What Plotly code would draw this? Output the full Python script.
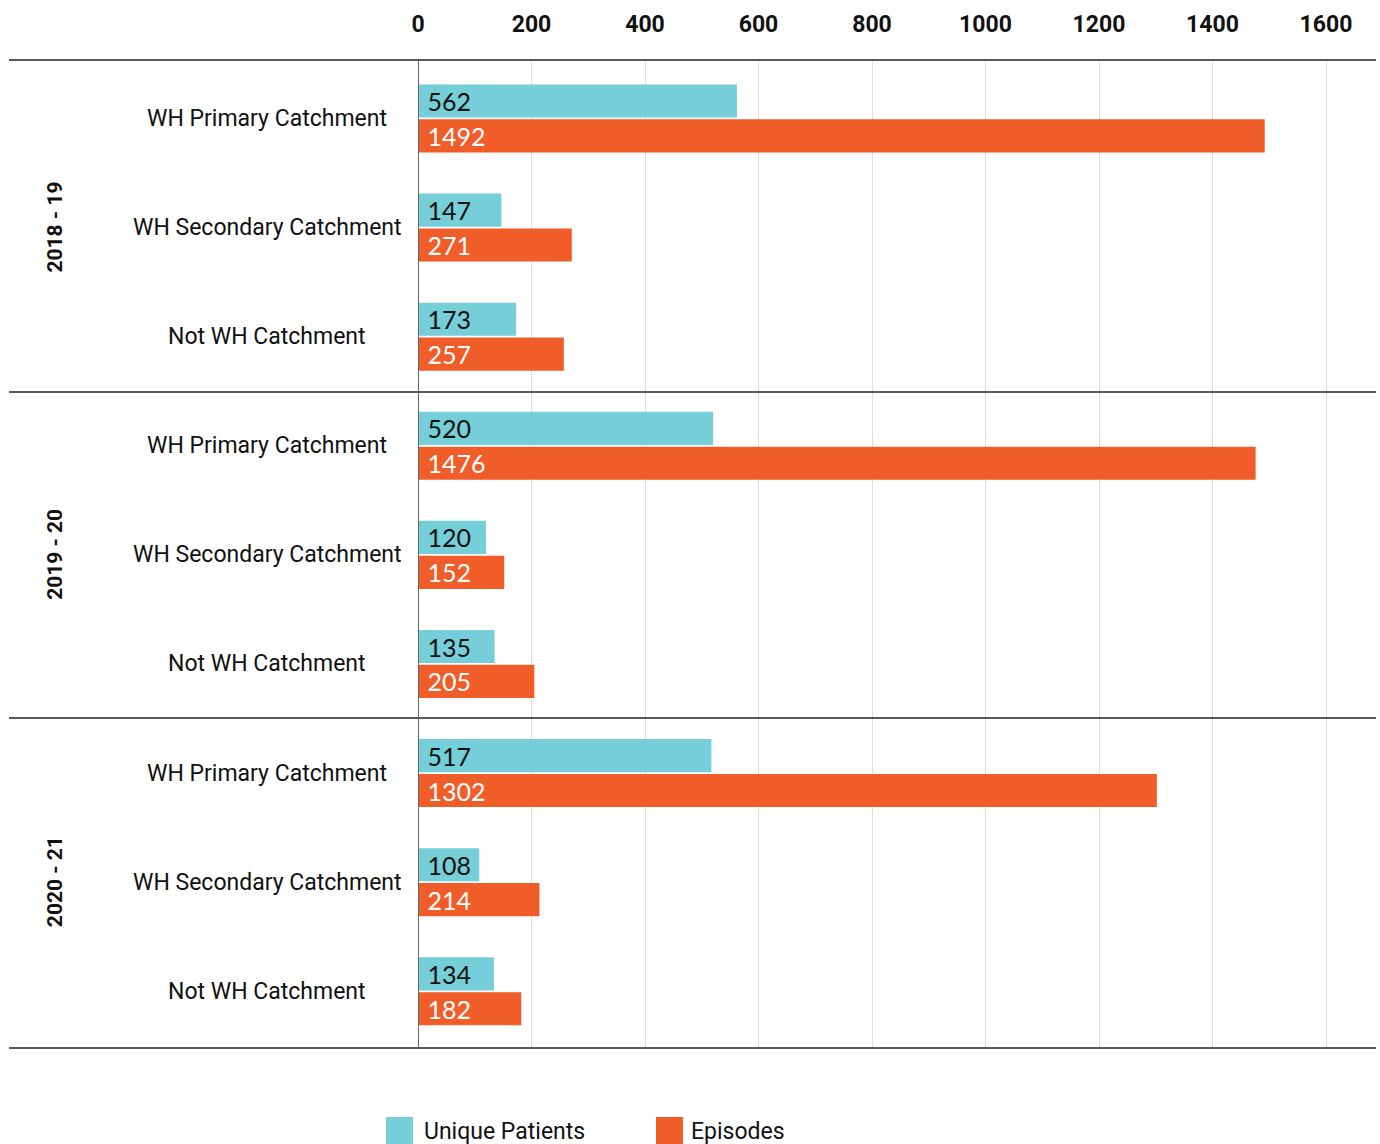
import plotly.graph_objects as go

years = ["2018 - 19", "2019 - 20", "2020 - 21"]
catchments = ["WH Primary Catchment", "WH Secondary Catchment", "Not WH Catchment"]
unique_patients = [562, 147, 173, 520, 120, 135, 517, 108, 134]
episodes = [1492, 271, 257, 1476, 152, 205, 1302, 214, 182]
series_names = ["Unique Patients", "Episodes"]
x_ticks = [0, 200, 400, 600, 800, 1000, 1200, 1400, 1600]

TEAL = "#76CED8"
ORANGE = "#F05D29"
LABEL_FONT = "Roboto"
NUM_FONT = "Lato"
series_colors = [TEAL, ORANGE]

n = len(years) * len(catchments)
ypos = list(range(n))
cat_labels = [c for _ in years for c in catchments]

fig = go.Figure()
fig.add_trace(go.Bar(
    y=ypos, x=unique_patients, orientation="h", name=series_names[0],
    marker=dict(color=TEAL, line=dict(width=0)),
    text=unique_patients, texttemplate=" %{x}", textposition="inside",
    insidetextanchor="start", constraintext="none",
    textfont=dict(color="#111111", size=25, family=NUM_FONT),
    hoverinfo="x+name", showlegend=False,
))
fig.add_trace(go.Bar(
    y=ypos, x=episodes, orientation="h", name=series_names[1],
    marker=dict(color=ORANGE, line=dict(width=0)),
    text=episodes, texttemplate=" %{x}", textposition="inside",
    insidetextanchor="start", constraintext="none",
    textfont=dict(color="#ffffff", size=25, family=NUM_FONT),
    hoverinfo="x+name", showlegend=False,
))

W, H = 1380, 1144
L, R, T, B = 418, 4, 60, 96
pw = W - L - R
ph = H - T - B

def px_x(px):
    return (px - L) / pw

def px_y(py):
    return 1 - (py - T) / ph

annotations = []
for i, lab in enumerate(cat_labels):
    annotations.append(dict(
        x=px_x(267), xref="paper", y=ypos[i], yref="y",
        text=lab, showarrow=False, xanchor="center", yanchor="middle",
        font=dict(family=LABEL_FONT, size=23, color="#111111"),
    ))
for g, yr in enumerate(years):
    annotations.append(dict(
        x=px_x(55), xref="paper", y=g * len(catchments) + 1, yref="y",
        text="<b>%s</b>" % yr, showarrow=False, textangle=-90,
        xanchor="center", yanchor="middle",
        font=dict(family=LABEL_FONT, size=21, color="#111111"),
    ))

shapes = []
for py in [60, 392, 718, 1048]:
    shapes.append(dict(
        type="line", xref="paper", yref="paper",
        x0=px_x(9), x1=1, y0=px_y(py), y1=px_y(py),
        line=dict(color="#222222", width=1.5), layer="above",
    ))
# vertical axis line
shapes.append(dict(
    type="line", xref="x", yref="paper", x0=0, x1=0, y0=0, y1=1,
    line=dict(color="#666666", width=2), layer="above",
))

# legend swatches + labels
legend_items = [(386, 422), (656, 689)]
for (sx, tx), name, col in zip(legend_items, series_names, series_colors):
    shapes.append(dict(
        type="rect", xref="paper", yref="paper",
        x0=px_x(sx), x1=px_x(sx + 27), y0=px_y(1117), y1=px_y(1144),
        fillcolor=col, line=dict(width=0),
    ))
    annotations.append(dict(
        x=px_x(tx), xref="paper", y=px_y(1131), yref="paper",
        text=name, showarrow=False, xanchor="left", yanchor="middle",
        font=dict(family=LABEL_FONT, size=23, color="#111111"),
    ))

fig.update_layout(
    width=W, height=H,
    margin=dict(l=L, r=R, t=T, b=B, pad=0),
    paper_bgcolor="white", plot_bgcolor="white",
    barmode="group", bargap=0.36, bargroupgap=0.05,
    showlegend=False,
    xaxis=dict(
        side="top", range=[0, pw / 0.5675], tickvals=x_ticks,
        ticktext=["<b>%d</b>" % v for v in x_ticks],
        showgrid=True, gridcolor="rgba(0,0,0,0.13)", gridwidth=1,
        zeroline=False, showline=False, ticks="", layer="above traces",
        tickfont=dict(family=LABEL_FONT, size=23, color="#111111"),
        ticklabelstandoff=22, fixedrange=True,
    ),
    yaxis=dict(
        range=[8.52, -0.536], showticklabels=False, showgrid=False,
        zeroline=False, showline=False,
        ticks="", fixedrange=True,
    ),
    annotations=annotations,
    shapes=shapes,
)

fig.write_html("out.html", config={"displayModeBar": False},
               post_script="document.body.style.margin='0px';")
